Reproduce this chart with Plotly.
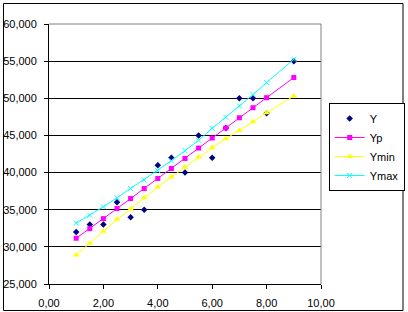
import plotly.graph_objects as go

x = [1, 1.5, 2, 2.5, 3, 3.5, 4, 4.5, 5, 5.5, 6, 6.5, 7, 7.5, 8, 9]
Y = [32, 33, 33, 36, 34, 35, 41, 42, 40, 45, 42, 46, 50, 50, 48, 55]
Yp = [31.16, 32.45, 33.8, 35.15, 36.5, 37.85, 39.2, 40.55, 41.9, 43.3, 44.65, 46.0, 47.38, 48.73, 50.08, 52.8]
Ymin = [28.9, 30.5, 32.1, 33.7, 35.1, 36.6, 38.05, 39.4, 40.7, 42.1, 43.35, 44.55, 45.65, 46.85, 48.06, 50.3]
Ymax = [33.2, 34.25, 35.4, 36.6, 37.85, 39.0, 40.25, 41.6, 42.95, 44.35, 45.95, 47.45, 48.95, 50.5, 52.1, 55.25]

y_ticks = [25, 30, 35, 40, 45, 50, 55, 60]
x_ticks = [0, 2, 4, 6, 8, 10]

FONT = "Arial, Liberation Sans, sans-serif"

fig = go.Figure()
fig.add_trace(go.Scatter(x=x, y=Y, name="Y", mode="markers",
                         marker=dict(symbol="diamond", size=5, color="#000080")))
fig.add_trace(go.Scatter(x=x, y=Yp, name="Yp", mode="lines+markers",
                         line=dict(color="#FF00FF", width=1),
                         marker=dict(symbol="square", size=5, color="#FF00FF")))
fig.add_trace(go.Scatter(x=x, y=Ymin, name="Ymin", mode="lines+markers",
                         line=dict(color="#FFFF00", width=1),
                         marker=dict(symbol="triangle-up", size=6, color="#FFFF00")))
fig.add_trace(go.Scatter(x=x, y=Ymax, name="Ymax", mode="lines+markers",
                         line=dict(color="#00FFFF", width=1),
                         marker=dict(symbol="x-thin", size=5, color="#00FFFF",
                                     line=dict(color="#00FFFF", width=1))))

fig.update_layout(
    width=408, height=312,
    margin=dict(l=49, r=87, t=24, b=28, autoexpand=False),
    paper_bgcolor="white", plot_bgcolor="white",
    separators=",.",
    font=dict(family=FONT, size=11, color="black"),
    showlegend=True,
    legend=dict(x=1.168, y=0.527, xanchor="center", yanchor="middle",
                bordercolor="black", borderwidth=1, bgcolor="white",
                font=dict(size=11), itemwidth=30, tracegroupgap=0),
    xaxis=dict(range=[0, 10], tickvals=x_ticks, tickformat=".2f",
               showgrid=False, zeroline=False, showline=True, linecolor="black",
               linewidth=1, ticks="outside", ticklen=4, tickcolor="black",
               ticklabelstandoff=5),
    yaxis=dict(range=[25, 60], tickvals=y_ticks, tickformat=",.3f",
               showgrid=True, gridcolor="black", gridwidth=1, zeroline=False,
               showline=True, linecolor="black", linewidth=1,
               ticks="outside", ticklen=4, tickcolor="black",
               ticklabelstandoff=5),
    shapes=[
        dict(type="line", xref="paper", yref="paper", x0=0, x1=1, y0=1, y1=1,
             line=dict(color="#808080", width=1)),
        dict(type="line", xref="paper", yref="paper", x0=1, x1=1, y0=0, y1=1,
             line=dict(color="#808080", width=1)),
        dict(type="rect", xref="paper", yref="paper",
             x0=-0.1673, x1=1.3015, y0=-0.1019, y1=1.0788,
             line=dict(color="black", width=1), fillcolor="rgba(0,0,0,0)"),
    ],
)

fig.write_html("out.html")
